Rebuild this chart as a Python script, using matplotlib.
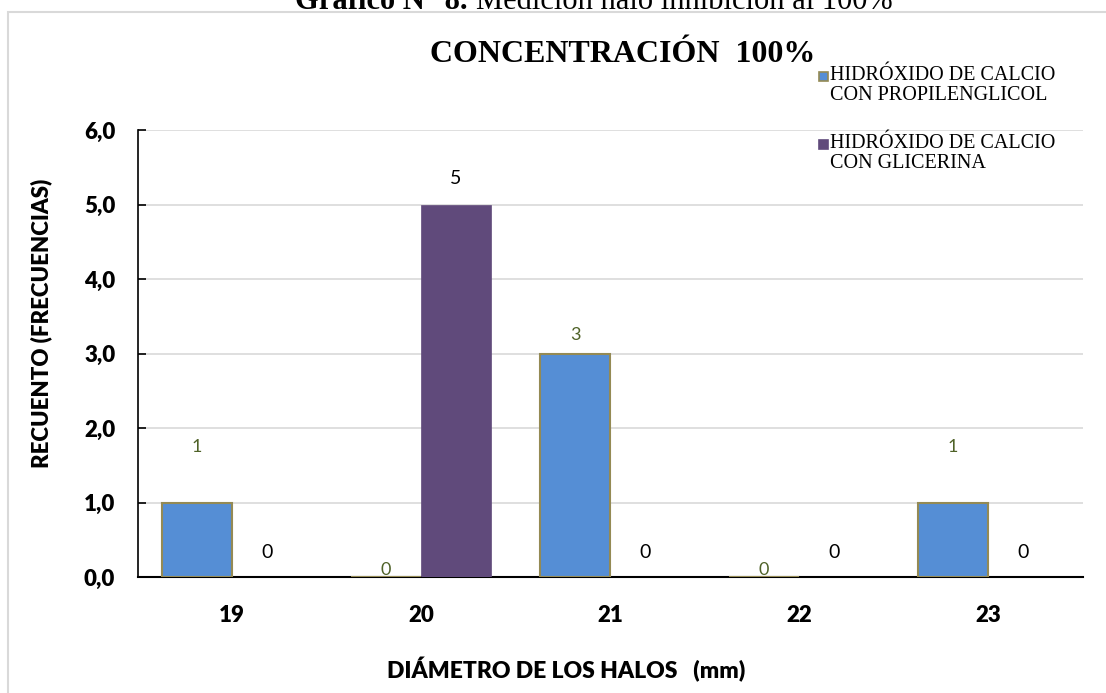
import numpy as np
import matplotlib
matplotlib.use("Agg")
import matplotlib.pyplot as plt
from matplotlib.patches import Rectangle

# data
diametros = ["19", "20", "21", "22", "23"]
propilenglicol = [1, 0, 3, 0, 1]
glicerina = [0, 5, 0, 0, 0]
series_names = ["HIDRÓXIDO DE CALCIO\nCON PROPILENGLICOL",
                "HIDRÓXIDO DE CALCIO\nCON GLICERINA"]

# label offsets above bar top (pixels) - placed by hand like the original
off_prop = [55, 7, 19, 7, 55]
off_gli = [24, 26, 24, 24, 24]

W, H = 1106, 693
fig = plt.figure(figsize=(W / 100, H / 100), dpi=100)
fig.patch.set_facecolor("white")

# outer chart border
fig.patches.append(Rectangle((8 / W, -0.1), 1.2, 1 - 12 / H + 0.1,
                             transform=fig.transFigure, fill=False,
                             edgecolor="#d9d9d9", lw=1.5))

sans = "Lato"
serif = "Liberation Serif"
heavy = 800

# caption cut off at the top
fig.text(468 / W, 1 - 9 / H, "Gráfico N° 8.", ha="right", va="baseline",
         fontsize=22, fontweight="bold", family=serif)
fig.text(476 / W, 1 - 9 / H, "Medición halo inhibición al 100%", ha="left",
         va="baseline", fontsize=22, family=serif)

ax = fig.add_axes([137.5 / W, 1 - 577 / H, 945 / W, (577 - 130) / H])

x = np.arange(len(diametros))
bw = 0.37
blue = "#558ed5"
purple = "#604a7b"
edge = "#948a54"
ax.bar(x - bw / 2, propilenglicol, bw, color=blue, edgecolor=edge,
       linewidth=1.5, zorder=3)
ax.bar(x + bw / 2, glicerina, bw, color=purple, edgecolor=purple,
       linewidth=0.5, zorder=3)

for i in range(len(x)):
    ax.annotate(str(propilenglicol[i]), (x[i] - bw / 2, propilenglicol[i]),
                xytext=(0, off_prop[i] * 0.72), textcoords="offset points",
                ha="center", va="center", fontsize=13, color="#4f6228",
                family=sans)
    ax.annotate(str(glicerina[i]), (x[i] + bw / 2, glicerina[i]),
                xytext=(0, off_gli[i] * 0.72), textcoords="offset points",
                ha="center", va="center", fontsize=14, color="black",
                family=sans)

ax.set_xlim(-0.5, len(x) - 0.5)
ax.set_ylim(0, 6)
ax.set_yticks(np.arange(0, 7, 1))
ax.set_yticklabels([f"{v:.1f}".replace(".", ",") for v in np.arange(0, 7, 1)])
ax.set_xticks(x)
ax.set_xticklabels(diametros)
for lab in ax.get_xticklabels() + ax.get_yticklabels():
    lab.set_fontweight(heavy)
    lab.set_family(sans)
    lab.set_fontsize(16)
ax.tick_params(axis="y", direction="in", length=6, width=1.2, pad=16)
ax.tick_params(axis="x", length=0, pad=20)
ax.grid(axis="y", color="#d9d9d9", lw=1.2, zorder=0)
for s in ["top", "right"]:
    ax.spines[s].set_visible(False)
ax.spines["left"].set_linewidth(1.2)
ax.spines["bottom"].set_linewidth(1.5)

fig.text(623 / W, 1 - 55 / H, "CONCENTRACIÓN  100%", ha="center", va="center",
         fontsize=23, fontweight="bold", family=serif)
fig.text(41 / W, 1 - 323 / H, "RECUENTO (FRECUENCIAS)", rotation=90,
         ha="center", va="center", fontsize=16, fontweight=heavy, family=sans)
fig.text(566 / W, 1 - 670 / H, "DIÁMETRO DE LOS HALOS   (mm)", ha="center",
         va="center", fontsize=16.5, fontweight=heavy, family=sans)

# legend, square aligned with the first text line
leg_colors = [(blue, edge), (purple, purple)]
leg_y = [76, 144]
for (fc, ec), name, ly in zip(leg_colors, series_names, leg_y):
    fig.patches.append(Rectangle((819 / W, 1 - (ly + 4.5) / H), 9 / W, 9 / H,
                                 transform=fig.transFigure, facecolor=fc,
                                 edgecolor=ec, lw=1.2))
    fig.text(830 / W, 1 - (ly - 9.5) / H, name, ha="left", va="top",
             fontsize=14.5, family=serif, linespacing=1.05)

fig.savefig("out.png", dpi=100)
